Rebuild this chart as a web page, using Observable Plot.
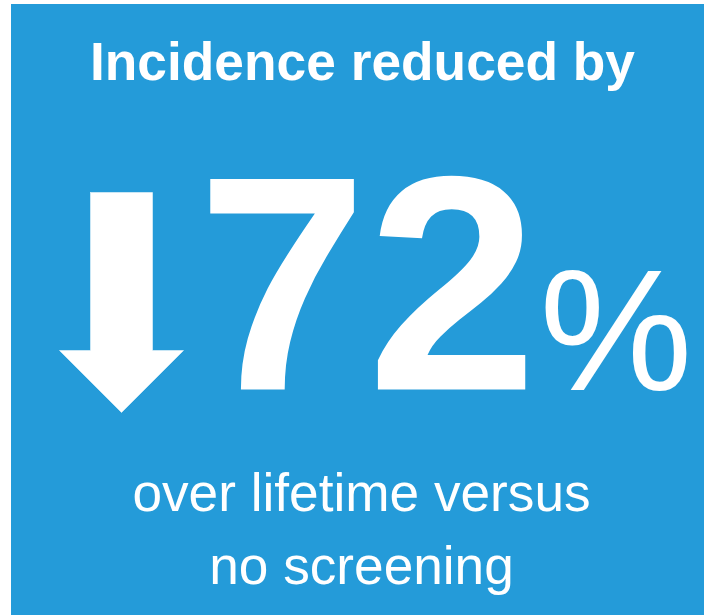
<!DOCTYPE html>
<html>
<head>
<meta charset="utf-8">
<script src="https://cdn.jsdelivr.net/npm/d3@7"></script>
<script src="https://cdn.jsdelivr.net/npm/@observablehq/plot@0.6"></script>
<style>
  html, body { margin: 0; padding: 0; background: #ffffff; }
  #chart svg { display: block; }
</style>
</head>
<body>
<div id="chart"></div>
<script>
// ---- data ----
const headline = ["Incidence reduced by"];
const changeValue = [72];
const changeUnit = ["%"];
const changeDirection = ["down"];
const captionLines = ["over lifetime versus", "no screening"];

// ---- layout (pixel space) ----
const W = 704, H = 615;
const BLUE = "#249BD9";
const FONT = "'Liberation Sans', Arial, Helvetica, sans-serif";
const panel = [{x1: 11, x2: W, y1: 4, y2: H}];

// arrow icon geometry
const arrowCx = 121, shaftHalf = 31, headHalf = 62, arrowTop = 192, headBase = 350, arrowTip = 412;
const arrowShape = changeDirection[0] === "down" ? [
  [arrowCx - shaftHalf, arrowTop], [arrowCx + shaftHalf, arrowTop],
  [arrowCx + shaftHalf, headBase], [arrowCx + headHalf, headBase],
  [arrowCx, arrowTip],
  [arrowCx - headHalf, headBase], [arrowCx - shaftHalf, headBase],
  [arrowCx - shaftHalf, arrowTop]
] : [];

const headlineRows = headline.map((t) => ({t, x: 362, y: 79}));
const valueRows = changeValue.map((v) => ({t: String(v), x: 537, y: 389}));
const unitRows = changeUnit.map((u) => ({t: u, x: 539, y: 389}));
const captionRows = captionLines.map((t, i) => ({t, x: 361, y: 510 + i * 73}));

const chart = Plot.plot({
  width: W,
  height: H,
  margin: 0,
  style: {background: "#ffffff", overflow: "visible"},
  x: {domain: [0, W], range: [0, W], axis: null},
  y: {domain: [0, H], range: [0, H], axis: null},
  marks: [
    Plot.rect(panel, {x1: "x1", x2: "x2", y1: "y1", y2: "y2", fill: BLUE}),
    Plot.line(arrowShape, {x: (d) => d[0], y: (d) => d[1], fill: "white", stroke: "white", strokeWidth: 0.5}),
    Plot.text(headlineRows, {x: "x", y: "y", text: "t", fill: "white", fontSize: 53.3, fontWeight: "bold", fontFamily: FONT, textAnchor: "middle", lineAnchor: "bottom"}),
    Plot.text(valueRows, {x: "x", y: "y", text: "t", fill: "white", fontSize: 306, fontWeight: "bold", fontFamily: FONT, textAnchor: "end", lineAnchor: "bottom"}),
    Plot.text(unitRows, {x: "x", y: "y", text: "t", fill: "white", fontSize: 172, fontWeight: "normal", fontFamily: FONT, textAnchor: "start", lineAnchor: "bottom"}),
    Plot.text(captionRows, {x: "x", y: "y", text: "t", fill: "white", fontSize: 53.2, fontWeight: "normal", fontFamily: FONT, textAnchor: "middle", lineAnchor: "bottom"})
  ]
});
document.getElementById("chart").appendChild(chart);
</script>
</body>
</html>
